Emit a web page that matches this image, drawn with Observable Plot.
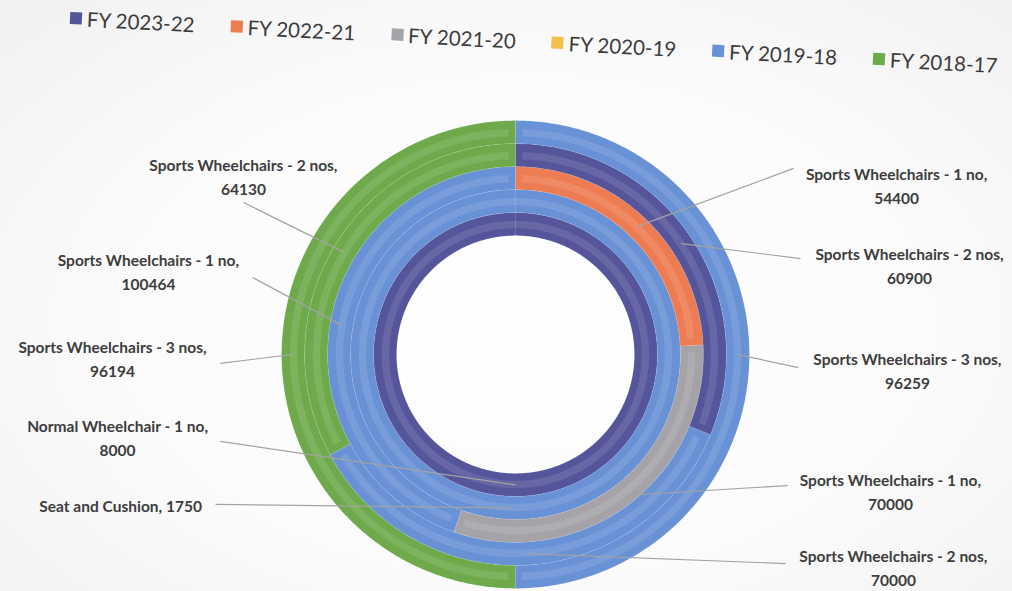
<!DOCTYPE html>
<html>
<head>
<meta charset="utf-8">
<script src="https://cdn.jsdelivr.net/npm/d3@7"></script>
<script src="https://cdn.jsdelivr.net/npm/@observablehq/plot@0.6"></script>
<style>
html, body { margin: 0; padding: 0; width: 1012px; height: 591px; overflow: hidden; }
body { background: radial-gradient(ellipse at 52% 55%, #ffffff 0%, #fbfbfb 55%, #f1f1f2 100%); }
#wrap { position: relative; width: 1012px; height: 591px; overflow: hidden; }
#chart { position: absolute; left: 0; top: 0; }
#legend { position: absolute; left: 70px; top: 6px; width: 1000px; transform: rotate(2.9deg); transform-origin: 0 50%; white-space: nowrap; }
#legend .lg-swatches { font-family: Lato, sans-serif; font-size: 20.5px; color: #3b3b3b; margin: 0; min-height: 0; flex-wrap: nowrap; }
#legend .lg-swatch { margin-right: 36px; flex-shrink: 0; }
#legend .lg-swatch > svg { margin-right: 5px; }
</style>
</head>
<body>
<div id="wrap"><div id="chart"></div><div id="legend"></div></div>
<script>
// ---- data ----
const fyNames = ["FY 2023-22", "FY 2022-21", "FY 2021-20", "FY 2020-19", "FY 2019-18", "FY 2018-17"];
const fyColors = ["#55559b", "#ee7c52", "#a6a3a8", "#f2c04e", "#6891d6", "#6eaa4b"];
const ringItems = ["Normal Wheelchair - 1 no", "Seat and Cushion", "Sports Wheelchairs - 1 no", "Sports Wheelchairs - 2 nos", "Sports Wheelchairs - 3 nos"];
const normalWheelchair1 = [8000, null, null, null, null, null];
const seatAndCushion = [null, null, null, null, 1750, null];
const sportsWheelchairs1 = [null, 54400, 70000, null, 100464, null];
const sportsWheelchairs2 = [60900, null, null, null, 70000, 64130];
const sportsWheelchairs3 = [null, null, null, null, 96259, 96194];
const ringValues = [normalWheelchair1, seatAndCushion, sportsWheelchairs1, sportsWheelchairs2, sportsWheelchairs3];

// ---- layout (chart units: 1 unit = one ring width) ----
const holeRadius = 5.17;
const labelLayout = [
  {ring: 3, fy: "FY 2018-17", tx: -11.83, ty: 7.78, sx: -11.83, sy: 6.61},
  {ring: 2, fy: "FY 2019-18", tx: -15.96, ty: 3.65, sx: -11.43, sy: 3.35},
  {ring: 4, fy: "FY 2018-17", tx: -17.52, ty: -0.13, sx: -12.83, sy: -0.39},
  {ring: 0, fy: "FY 2023-22", tx: -17.30, ty: -3.57, sx: -12.83, sy: -3.78},
  {ring: 1, fy: "FY 2019-18", tx: -17.17, ty: -6.52, sx: -13.04, sy: -6.52},
  {ring: 2, fy: "FY 2022-21", tx: 16.57, ty: 7.41, sx: 12.09, sy: 8.09},
  {ring: 3, fy: "FY 2023-22", tx: 17.13, ty: 3.91, sx: 12.39, sy: 4.17},
  {ring: 4, fy: "FY 2019-18", tx: 17.04, ty: -0.65, sx: 12.30, sy: -0.57},
  {ring: 2, fy: "FY 2021-20", tx: 16.30, ty: -5.91, sx: 11.83, sy: -5.70},
  {ring: 3, fy: "FY 2019-18", tx: 16.43, ty: -9.22, sx: 11.74, sy: -9.09}
];

// ---- segments from data ----
const segments = [];
ringValues.forEach((vals, ri) => {
  const total = d3.sum(vals);
  let acc = 0;
  vals.forEach((v, fi) => {
    if (!v) return;
    const a0 = acc / total * 2 * Math.PI;
    acc += v;
    const a1 = acc / total * 2 * Math.PI;
    segments.push({id: ri + "-" + fi, ring: ri, item: ringItems[ri], fy: fyNames[fi], value: v, a0, a1, r0: holeRadius + ri, r1: holeRadius + ri + 1});
  });
});

function arcPoly(s, r0, r1, a0, a1, id) {
  const pts = [];
  const n = Math.max(2, Math.ceil((a1 - a0) / (Math.PI / 360)));
  for (let i = 0; i <= n; i++) {
    const a = a0 + (a1 - a0) * i / n;
    pts.push({id, fy: s.fy, x: r1 * Math.sin(a), y: r1 * Math.cos(a)});
  }
  for (let i = n; i >= 0; i--) {
    const a = a0 + (a1 - a0) * i / n;
    pts.push({id, fy: s.fy, x: r0 * Math.sin(a), y: r0 * Math.cos(a)});
  }
  return pts;
}

const segPts = segments.flatMap(s => arcPoly(s, s.r0, s.r1, s.a0, s.a1, "s" + s.id));
const stripePts = segments.flatMap(s => {
  const full = s.a1 - s.a0 >= 2 * Math.PI - 1e-9;
  const rm = (s.r0 + s.r1) / 2;
  const inset = full ? 0 : 0.3 / rm;
  return arcPoly(s, s.r0 + 0.32, s.r0 + 0.64, s.a0 + inset, s.a1 - inset, "t" + s.id);
});

const labels = labelLayout.map(L => {
  const s = segments.find(d => d.ring === L.ring && d.fy === L.fy);
  const am = (s.a0 + s.a1) / 2, rm = (s.r0 + s.r1) / 2;
  const name = s.item + ", " + s.value;
  const text = name.length > 24 ? s.item + ",\n" + s.value : name;
  return {...L, label: text, ax: rm * Math.sin(am), ay: rm * Math.cos(am)};
});

// ---- plot ----
const k = 23, cx = 515, cy = 354, W = 1012, H = 591;
const chart = Plot.plot({
  width: W, height: H, margin: 0,
  x: {domain: [-cx / k, (W - cx) / k], axis: null},
  y: {domain: [-(H - cy) / k, cy / k], axis: null},
  color: {domain: fyNames, range: fyColors},
  style: {background: "transparent", fontFamily: "Lato, sans-serif", overflow: "visible"},
  marks: [
    Plot.line(segPts, {x: "x", y: "y", z: "id", fill: "fy", stroke: "#ffffff", strokeWidth: 0.6, strokeOpacity: 0.15, curve: "linear-closed"}),
    Plot.line(stripePts, {x: "x", y: "y", z: "id", fill: "white", fillOpacity: 0.11, stroke: "none", curve: "linear-closed"}),
    Plot.link(labels, {x1: "sx", y1: "sy", x2: "ax", y2: "ay", stroke: "#a3a3a3", strokeWidth: 1.2}),
    Plot.text(labels, {x: "tx", y: "ty", text: "label", fontSize: 15.5, fontWeight: "bold", fill: "#3d3d3d", lineHeight: 1.55, lineAnchor: "middle", textAnchor: "middle"})
  ]
});
document.getElementById("chart").append(chart);
document.getElementById("legend").append(chart.legend("color", {className: "lg", swatchSize: 12}));
</script>
</body>
</html>
